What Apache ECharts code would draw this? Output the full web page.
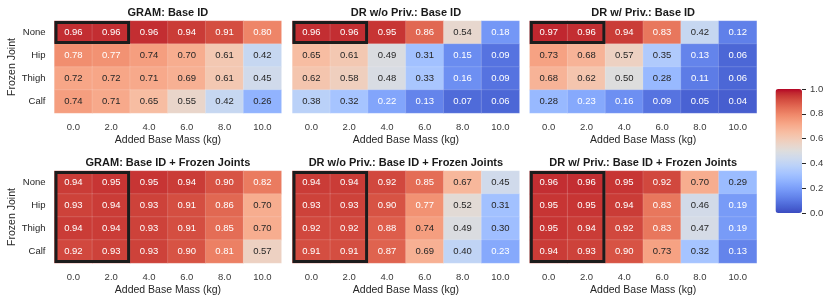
<!DOCTYPE html>
<html><head><meta charset="utf-8">
<script src="https://cdn.jsdelivr.net/npm/echarts@6/dist/echarts.min.js"></script>
<style>html,body{margin:0;padding:0;background:#fff}#c{width:831px;height:303px}</style>
</head><body><div id="c"></div>
<script>
// ---- data ----
const massLabels = ['0.0','2.0','4.0','6.0','8.0','10.0'];
const jointLabels = ['None','Hip','Thigh','Calf'];
const titles = ['GRAM: Base ID','DR w/o Priv.: Base ID','DR w/ Priv.: Base ID',
  'GRAM: Base ID + Frozen Joints','DR w/o Priv.: Base ID + Frozen Joints','DR w/ Priv.: Base ID + Frozen Joints'];
const gramBase = [[0.96,0.96,0.96,0.94,0.91,0.80],[0.78,0.77,0.74,0.70,0.61,0.42],[0.72,0.72,0.71,0.69,0.61,0.45],[0.74,0.71,0.65,0.55,0.42,0.26]];
const drNoPrivBase = [[0.96,0.96,0.95,0.86,0.54,0.18],[0.65,0.61,0.49,0.31,0.15,0.09],[0.62,0.58,0.48,0.33,0.16,0.09],[0.38,0.32,0.22,0.13,0.07,0.06]];
const drPrivBase = [[0.97,0.96,0.94,0.83,0.42,0.12],[0.73,0.68,0.57,0.35,0.13,0.06],[0.68,0.62,0.50,0.28,0.11,0.06],[0.28,0.23,0.16,0.09,0.05,0.04]];
const gramFrozen = [[0.94,0.95,0.95,0.94,0.90,0.82],[0.93,0.94,0.93,0.91,0.86,0.70],[0.94,0.94,0.93,0.91,0.85,0.70],[0.92,0.93,0.93,0.90,0.81,0.57]];
const drNoPrivFrozen = [[0.94,0.94,0.92,0.85,0.67,0.45],[0.93,0.93,0.90,0.77,0.52,0.31],[0.92,0.92,0.88,0.74,0.49,0.30],[0.91,0.91,0.87,0.69,0.40,0.23]];
const drPrivFrozen = [[0.96,0.96,0.95,0.92,0.70,0.29],[0.95,0.95,0.94,0.83,0.46,0.19],[0.95,0.94,0.92,0.83,0.47,0.19],[0.94,0.93,0.90,0.73,0.32,0.13]];
// highlight boxes: [colStart, colEnd, rowStart, rowEnd]
const boxTop = [0,1,0,0];
const boxBottom = [0,1,0,3];
const colorbarTicks = [0,0.2,0.4,0.6,0.8,1.0];

// ---- coolwarm colormap ----
const coolwarm = [[59,76,192],[68,90,204],[77,104,215],[87,117,225],[98,130,234],[108,142,241],[119,154,247],[130,165,251],[141,176,254],[152,185,255],[163,194,255],[174,201,253],[184,208,249],[194,213,244],[204,217,238],[213,219,230],[221,221,221],[229,216,209],[236,211,197],[241,204,184],[245,196,172],[247,187,160],[247,177,148],[247,166,135],[244,154,123],[241,141,111],[236,127,99],[229,112,88],[222,96,77],[213,80,66],[203,62,56],[192,40,47],[180,4,38]];
const cmapHex = coolwarm.map(c => 'rgb(' + c.join(',') + ')');
function cmap(v){
  const t = Math.max(0, Math.min(1, v)) * (coolwarm.length - 1);
  const i = Math.min(Math.floor(t), coolwarm.length - 2), f = t - i;
  return coolwarm[i].map((a, k) => a + (coolwarm[i+1][k] - a) * f);
}
function textColor(v){
  const lin = cmap(v).map(c => { c /= 255; return c <= 0.03928 ? c/12.92 : Math.pow((c+0.055)/1.055, 2.4); });
  const L = 0.2126*lin[0] + 0.7152*lin[1] + 0.0722*lin[2];
  return L > 0.408 ? '#262626' : '#ffffff';
}

const panels = [gramBase, drNoPrivBase, drPrivBase, gramFrozen, drNoPrivFrozen, drPrivFrozen];
const FONT = 'Liberation Sans';
const lefts = [54.5, 292.5, 529.8];
const W = 226.8;
const tops = [21, 171];
const H = 92;

const grids = [], xAxes = [], yAxes = [], series = [], titleArr = [];
panels.forEach((m, p) => {
  const col = p % 3, row = Math.floor(p / 3);
  grids.push({left: lefts[col], top: tops[row], width: W, height: H});
  xAxes.push({type:'category', gridIndex:p, data:massLabels, axisLine:{show:false}, axisTick:{show:false},
    splitLine:{show:false},
    axisLabel:{color:'#3a3a3a', fontSize:9.5, fontFamily:FONT, margin:9},
    name:'Added Base Mass (kg)', nameLocation:'middle', nameGap:22,
    nameTextStyle:{color:'#262626', fontSize:10.5, fontFamily:FONT}});
  yAxes.push({type:'category', gridIndex:p, data:jointLabels, inverse:true, axisLine:{show:false}, axisTick:{show:false},
    axisLabel:{show: col === 0, color:'#262626', fontSize:9.5, fontFamily:FONT, margin:9},
    name: col === 0 ? 'Frozen Joint' : '', nameLocation:'middle', nameGap:36, nameRotate:90,
    nameTextStyle:{color:'#262626', fontSize:10.5, fontFamily:FONT}});
  const data = [];
  m.forEach((r, yi) => r.forEach((v, xi) => {
    data.push({value:[xi, yi, v], label:{color:textColor(v)}});
  }));
  series.push({type:'heatmap', xAxisIndex:p, yAxisIndex:p, data:data,
    itemStyle:{borderColor:'rgba(255,255,255,0.3)', borderWidth:0.5},
    label:{show:true, fontSize:9.5, fontFamily:FONT, formatter: d => d.value[2].toFixed(2)},
    emphasis:{disabled:true}});
  titleArr.push({text:titles[p], left: lefts[col] + W/2, top: tops[row] - 14, textAlign:'center',
    textStyle:{fontSize:11, fontWeight:'bold', color:'#1a1a1a', fontFamily:FONT}, padding:0});
});

// highlight boxes drawn through the axes
panels.forEach((m, p) => {
  const b = p < 3 ? boxTop : boxBottom;
  series.push({type:'custom', xAxisIndex:p, yAxisIndex:p, data:[b], z:10, silent:true,
    renderItem: (params, api) => {
      const sz = api.size([1,1]);
      const p0 = api.coord([api.value(0), api.value(2)]);
      const p1 = api.coord([api.value(1), api.value(3)]);
      const lw = 3;
      const x0 = p0[0] - sz[0]/2 + lw/2, y0 = p0[1] - sz[1]/2 + lw/2;
      const x1 = p1[0] + sz[0]/2 - lw/2, y1 = p1[1] + sz[1]/2 - lw/2;
      return {type:'rect', shape:{x:x0, y:y0, width:x1-x0, height:y1-y0},
        style:{fill:null, stroke:'#1c1c1c', lineWidth:lw}};
    }});
});

// colorbar axis
const cbIdx = panels.length;
grids.push({left:775.5, top:89, width:26.5, height:124});
xAxes.push({type:'value', gridIndex:cbIdx, show:false, min:0, max:1});
yAxes.push({type:'value', gridIndex:cbIdx, position:'right', min:0, max:1, interval:0.2,
  axisLine:{show:false, onZero:false}, splitLine:{show:false},
  axisTick:{show:true, inside:false, length:4, lineStyle:{color:'#262626', width:1}},
  axisLabel:{color:'#3a3a3a', fontSize:9.5, fontFamily:FONT, margin:8, formatter: v => v.toFixed(1)}});
series.push({type:'line', xAxisIndex:cbIdx, yAxisIndex:cbIdx, data:[], silent:true});

const chart = echarts.init(document.getElementById('c'), null, {renderer:'canvas'});
chart.setOption({
  animation:false,
  backgroundColor:'#ffffff',
  title:titleArr,
  grid:grids, xAxis:xAxes, yAxis:yAxes,
  visualMap:{type:'continuous', min:0, max:1, calculable:false, seriesIndex:[0,1,2,3,4,5],
    inRange:{color:cmapHex}, left:775.5, top:89, itemWidth:26.5, itemHeight:124, padding:0,
    text:['',''], showLabel:false, hoverLink:false, orient:'vertical', z:1},
  series:series
});
</script></body></html>
